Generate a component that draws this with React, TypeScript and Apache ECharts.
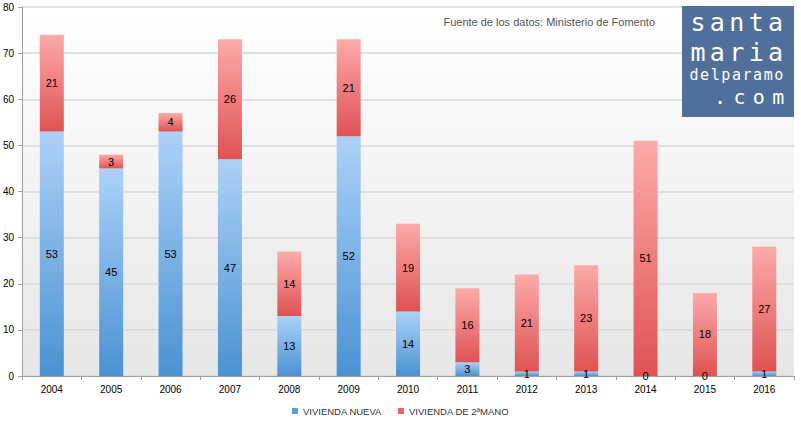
import React, { useEffect, useRef } from "react";
import * as echarts from "echarts";

const years = ["2004", "2005", "2006", "2007", "2008", "2009", "2010", "2011", "2012", "2013", "2014", "2015", "2016"];
const nueva = [53, 45, 53, 47, 13, 52, 14, 3, 1, 1, 0, 0, 1];
const segunda = [21, 3, 4, 26, 14, 21, 19, 16, 21, 23, 51, 18, 27];
const seriesNames = ["VIVIENDA NUEVA", "VIVIENDA DE 2ªMANO"];
const sourceText = "Fuente de los datos: Ministerio de Fomento";
const logoLines = [
  { text: "santa", x0: 698, adv: 19.4, y: 35, size: 25 },
  { text: "maria", x0: 698, adv: 19.4, y: 65, size: 25 },
  { text: "delparamo", x0: 694, adv: 10.6, y: 82, size: 15 },
  { text: ".com", x0: 720, adv: 19.4, y: 107, size: 20 },
];

export default function App() {
  const ref = useRef<HTMLDivElement>(null);
  useEffect(() => {
    const chart = echarts.init(ref.current!, null, { renderer: "svg" });
    const logoChars: any[] = [];
    logoLines.forEach((l) => {
      l.text.split("").forEach((ch, i) => {
        logoChars.push({
          type: "text",
          x: l.x0 + i * l.adv,
          y: l.y,
          style: {
            text: ch,
            fill: "#ffffff",
            font: `${l.size}px "DejaVu Sans Mono"`,
            textAlign: "center",
            textVerticalAlign: "bottom",
          },
          z: 101,
        });
      });
    });
    const blueGrad = new echarts.graphic.LinearGradient(0, 0, 0, 1, [
      { offset: 0, color: "#acd1f8" },
      { offset: 1, color: "#4a92d2" },
    ]);
    const redGrad = new echarts.graphic.LinearGradient(0, 0, 0, 1, [
      { offset: 0, color: "#fdaaaa" },
      { offset: 1, color: "#df5252" },
    ]);
    const label = {
      show: true,
      position: "inside" as const,
      color: "#000",
      fontSize: 11,
      fontFamily: "Liberation Sans, Arial, sans-serif",
    };
    const font = "Liberation Sans, Arial, sans-serif";
    chart.setOption({
      animation: false,
      backgroundColor: "#ffffff",
      grid: {
        left: 22,
        right: 7,
        top: 7,
        bottom: 46,
        containLabel: false,
        show: true,
        borderWidth: 0,
        backgroundColor: new echarts.graphic.LinearGradient(0, 0, 0, 1, [
          { offset: 0, color: "#ffffff" },
          { offset: 1, color: "#e6e6e6" },
        ]),
      },
      legend: {
        top: 401,
        left: "center",
        itemWidth: 6,
        itemHeight: 6,
        itemGap: 16,
        icon: "rect",
        textStyle: { fontSize: 9.5, color: "#333", fontFamily: font },
        data: [
          { name: seriesNames[0], itemStyle: { color: "#5b9ede" } },
          { name: seriesNames[1], itemStyle: { color: "#e86060" } },
        ],
      },
      xAxis: {
        type: "category",
        data: years,
        axisLine: { lineStyle: { color: "#a0a0a0", width: 1 } },
        axisTick: { show: true, alignWithLabel: false, length: 4, lineStyle: { color: "#a0a0a0" } },
        axisLabel: { color: "#000", fontSize: 10, margin: 8, fontFamily: font },
      },
      yAxis: {
        type: "value",
        min: 0,
        max: 80,
        interval: 10,
        axisLine: { show: true, lineStyle: { color: "#a0a0a0" } },
        axisTick: { show: true, length: 4, lineStyle: { color: "#a0a0a0" } },
        axisLabel: { color: "#000", fontSize: 10, margin: 8, fontFamily: font },
        splitLine: { lineStyle: { color: "#d8d8d8", width: 1.5 } },
      },
      series: [
        {
          name: seriesNames[0],
          type: "bar",
          stack: "total",
          data: nueva,
          barWidth: 24,
          itemStyle: { color: blueGrad },
          label,
        },
        {
          name: seriesNames[1],
          type: "bar",
          stack: "total",
          data: segunda,
          barWidth: 24,
          itemStyle: { color: redGrad },
          label,
        },
      ],
      graphic: [
        {
          type: "text",
          right: 146,
          top: 16,
          style: {
            text: sourceText,
            fill: "#555",
            font: '11px "Liberation Sans", Arial, sans-serif',
          },
          z: 100,
        },
        {
          type: "rect",
          shape: { x: 682, y: 6, width: 112, height: 111 },
          style: { fill: "#50709b" },
          z: 100,
        },
        ...logoChars,
      ],
    });
    return () => chart.dispose();
  }, []);
  return <div ref={ref} style={{ width: 801, height: 422, position: "absolute", left: 0, top: 0 }} />;
}
